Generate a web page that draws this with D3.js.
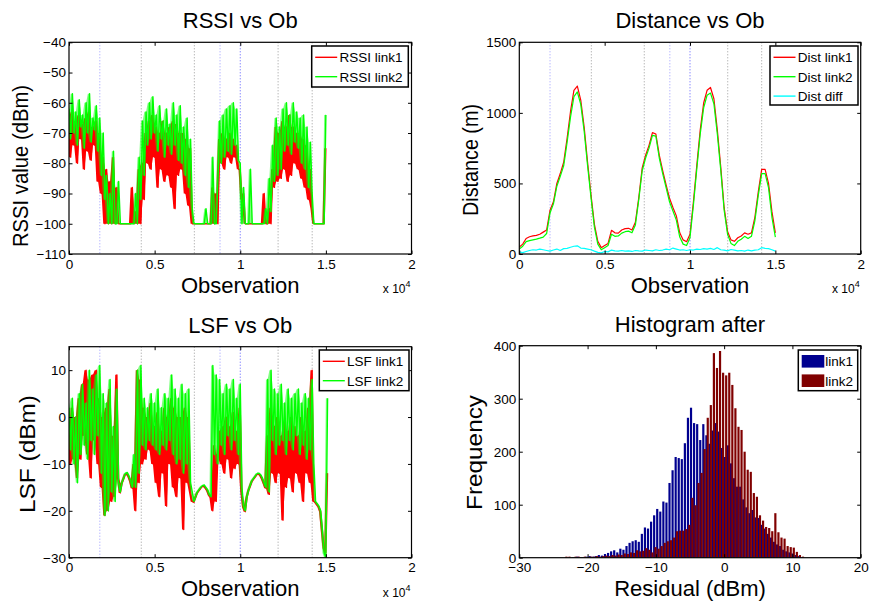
<!DOCTYPE html>
<html>
<head>
<meta charset="utf-8">
<script src="https://cdn.jsdelivr.net/npm/d3@7"></script>
<style>
body { margin: 0; background: #fff; }
svg { display: block; font-family: "Liberation Sans", Arial, sans-serif; }
</style>
</head>
<body>
<svg id="fig" width="869" height="604"></svg>
<script>
/////////////////////////////////////////////////////////////////////////
// data

// RSSI / LSF samples every 100 observations, starting at 0
var obsStep = 100
var rssiLink1 = [-65,-78,-63,-74,-66,-80,-64,-72,-67,-82,-65,-76,-63,-79,-68,-74,-66,-86,
	-70,-90,-78,-100, -82,-100,-86,-100,-78,-100,-88,-100,
	-100,-100,-100,-100,-100,-100,-100,-88,-100, -96,-100,-82,-100, -80,-92,-70, -80,-66,-82,-64,
	-78,-68,-88,-70,-82,-66,-86,-70,-84,-68, -88,-66,-95,-67,-84,-70, -82,-70,-90,-72,-94,-75,
	-100,-100, -100,-100,-100,-100,-100,-100,-100,-100,-100, -100,-88,-100,-90,-100,
	-72,-80,-70,-82,-72,-78,-70,-80,-72,-78,-74,-82, -82,-92,-90,
	-100,-100,-100,-100,-100,-100,-100,-100,-100,-100,-100,-90, -100,-100,-95,-100,-82,
	-88,-68,-86,-70,-85, -66,-82,-68,-86,-64,-84,-68,-80,-70,-82, -70,-85,-72,-88,-74,
	-92,-82,-95, -100,-100,-100,-100,-100,-100, -100,-75]
var rssiLink2 = [-62,-72,-57,-70,-63,-74,-59,-68,-64,-75,-60,-70,-57,-73,-65,-69,-61,-76,
	-65,-84,-70,-92, -84,-100,-90,-100,-76,-100,-100,-86,
	-100,-100,-100,-100,-100,-100,-100,-100,-100, -90,-100,-78,-92, -66,-84,-63, -74,-60,-72,-58,
	-70,-64,-76,-61,-72,-66,-78,-62,-74,-67, -77,-60,-74,-64,-79,-61, -80,-68,-84,-65,-88,-72,
	-95,-100, -100,-100,-100,-100,-100,-100,-95,-100,-100, -100,-78,-100,-100,-85,
	-66,-80,-64,-78,-62,-76,-61,-77,-60,-74,-62,-79, -80,-100,-88,
	-100,-100,-100,-82,-100,-100,-100,-100,-100,-100,-100,-100, -95,-100,-85,-96,-74,
	-86,-65,-84,-68,-82, -62,-76,-60,-74,-64,-77,-60,-73,-63,-75, -65,-80,-64,-82,-68,
	-88,-73,-90, -100,-100,-100,-100,-100,-100, -100,-64]

var lsfLink1 = [-4,-10,2,-9,0,-13,4,-9,7,-4,10,-8,8,-13,9,-5,10,-10,
	4,-15,0,-21, 2,-20,6,-18,-4,-17,9,-13,
	-16.2,-14.2,-13.2,-12.2,-12,-12.7,-13.7,-15.2, -10,-20,10,-14,8,
	-10,2,-9,0,-7,3,-10, -2,-14,1,-17,-3,-12,2,-19,0,-10, 4,-15,2,-17,0,-13,
	0,-24,2,-14,0,-16, -18,
	-18.2,-17.2,-16.2,-15.7,-15.2,-14.8,-14.7,-15.2,-15.7,-16.7, -17.2,-20,-6,-18,-8,
	-3,-10,-2,-12,0,-9,-2,-13,1,-11,-3,-10, 2,-16,-19.2,
	-20.2,-17.2,-15.7,-14.7,-13.7,-13.2,-12.7,-12.2,-12.2,-12.5,-13.2,-14.2, -15.2,-4,-16.5,2,-12,
	-2,-14,0,-12,-4,-22,-1,-15,-3,-13,0,-16,-2,-12,-4,-14,0,-18,-3,-12,2,-14,
	10,-18, -18.2,-18.7,-19.2,-20.2, -24.2,-28,-29,-12]
var lsfLink2 = [2,-7,4,-10,0,-14,5,-8,7,-6,3,-9,10,-5,6,-8,9,-4,
	11,-12,5,-21, 3,-20,8,-16,-2,-18,6,-14,
	-16,-14,-13,-12,-11.8,-12.5,-13.5,-15, -8,-15,10,-12,11,
	-6,4,-7,2,-5,5,-6, 3,-7,6,-8,2,-6,5,-7,4,-5, 9,-8,6,-10,4,-9,
	7,-12,5,-10,6,-14, -16,
	-18,-17,-16,-15.5,-15,-14.6,-14.5,-15,-15.5,-16.5, -17,11,-8,9,-10,
	8,-6,5,-8,7,-4,6,-7,8,-5,4,-8, 7,-15,-19,
	-20,-17,-15.5,-14.5,-13.5,-13,-12.5,-12,-12,-12.3,-13,-14, -15,8,-16,10,-5,
	6,-8,5,-6,7,-5,3,-8,6,-5,4,-7,5,-4,6,-8,3,-6,5,-9,4,-7,
	8,-10, -18,-18.5,-19,-20, -24,-29,-30,4]

// distance samples every 200 observations, starting at 0
var distStep = 200
var distLink1 = [50,70,110,122,128,132,140,155,170,310,370,500,570,650,820,1010,1160,1190,1090,900,
	650,420,210,90,45,60,75,168,150,148,170,180,182,170,225,400,610,700,770,860,
	850,700,590,490,395,330,270,150,100,87,140,370,630,880,1070,1160,1180,1100,880,620,
	330,160,100,90,115,128,150,140,150,260,440,600,600,500,300,150]
var distLink2 = [35,55,88,95,100,105,112,120,145,290,355,480,550,625,790,970,1115,1148,1060,870,
	625,400,190,70,30,45,60,140,125,128,148,158,162,150,205,385,590,680,750,840,
	835,680,570,470,370,305,240,120,70,60,115,345,605,850,1035,1125,1140,1065,850,595,
	310,140,75,60,90,105,125,110,125,235,415,570,570,470,260,120]
var distDiff = [15,10,18,25,30,28,35,30,25,20,28,35,25,38,40,48,55,58,42,40,
	35,30,20,12,8,18,15,28,22,20,25,20,22,18,25,22,20,28,25,22,
	30,25,28,35,30,42,35,28,30,25,30,28,35,32,38,35,40,32,45,30,
	28,22,32,28,22,25,20,28,22,28,30,45,40,38,30,20]

// marker observations drawn as dotted verticals, and their kind
var eventObs = [1800, 4220, 7320, 8820, 10000, 12210, 14200]
var eventKind = ['blue', 'grey', 'grey', 'blue', 'darkblue', 'grey', 'grey']

// histogram of residuals
var binCenters = [-23.2,-22.75,-22.3,-21.85,-21.4,-20.95,-20.5,-20.05,-19.6,-19.15,
	-18.7,-18.25,-17.8,-17.35,-16.9,-16.45,-16,-15.55,-15.1,-14.65,
	-14.2,-13.75,-13.3,-12.85,-12.4,-11.95,-11.5,-11.05,-10.6,-10.15,
	-9.7,-9.25,-8.8,-8.35,-7.9,-7.45,-7,-6.55,-6.1,-5.65,
	-5.2,-4.75,-4.3,-3.85,-3.4,-2.95,-2.5,-2.05,-1.6,-1.15,
	-0.7,-0.25,0.2,0.65,1.1,1.55,2,2.45,2.9,3.35,
	3.8,4.25,4.7,5.15,5.6,6.05,6.5,6.95,7.4,7.85,
	8.3,8.75,9.2,9.65,10.1,10.55,11,11.45]
var histLink1 = [0,0,0,1,2,1,1,2,3,2,
	3,5,4,7,9,12,14,10,17,15,
	22,28,31,33,30,45,57,55,68,80,
	92,87,106,104,141,165,190,188,186,216,
	264,283,254,252,222,252,231,215,240,254,
	238,207,190,212,178,150,134,134,110,95,
	84,90,76,75,62,55,45,38,30,25,
	22,15,12,10,8,5,3,1]
var histLink2 = [2,2,1,2,2,1,2,1,2,2,
	3,2,3,4,3,5,4,6,5,8,
	7,10,9,14,12,13,18,15,10,20,
	17,22,28,31,33,38,50,51,51,54,
	62,113,99,141,160,205,264,288,386,358,
	390,349,344,349,326,282,247,241,200,166,
	162,122,115,80,70,58,56,50,84,48,
	38,36,22,20,19,11,5,2]

var obsTicks = [0, 5000, 10000, 15000, 20000]
var rssiTicks = [-110, -100, -90, -80, -70, -60, -50, -40]
var distTicks = [0, 500, 1000, 1500]
var lsfTicks = [-30, -20, -10, 0, 10]
var resTicks = [-30, -20, -10, 0, 10, 20]
var freqTicks = [0, 100, 200, 300, 400]

/////////////////////////////////////////////////////////////////////////
// helpers

var svg = d3.select('#fig')
var clipN = 0
var RED = '#ff0000', GREEN = '#00ff00', CYAN = '#00ffff'
var eventColor = {blue: '#9a9aff', darkblue: '#5a5aff', grey: '#9a9a9a'}

function makeAxes(p, xDom, yDom) {
	var x = d3.scaleLinear(xDom, [p.l, p.r])
	var y = d3.scaleLinear(yDom, [p.b, p.t])
	var g = svg.append('g')
	var id = 'clip' + (clipN++)
	svg.append('clipPath').attr('id', id).append('rect')
		.attr('x', p.l).attr('y', p.t).attr('width', p.r - p.l).attr('height', p.b - p.t)
	var plot = g.append('g').attr('clip-path', 'url(#' + id + ')')
	return {g: g, plot: plot, x: x, y: y, p: p}
}

function finishAxes(a, xTicks, yTicks, xFmt, yFmt, xPad) {
	var p = a.p, tl = -3.5
	var styleAxis = function(sel) {
		sel.select('.domain').remove()
		sel.attr('font-family', null).attr('font-size', null)
		sel.selectAll('line').attr('stroke', '#000').attr('stroke-width', 1)
		sel.selectAll('text').attr('fill', '#000').style('font-size', '13.5px')
	}
	a.g.append('g').attr('transform', 'translate(0,' + p.b + ')')
		.call(d3.axisBottom(a.x).tickValues(xTicks).tickSize(tl).tickPadding(xPad).tickFormat(xFmt)).call(styleAxis)
	a.g.append('g').attr('transform', 'translate(0,' + p.t + ')')
		.call(d3.axisTop(a.x).tickValues(xTicks).tickSize(tl).tickFormat('')).call(styleAxis)
	a.g.append('g').attr('transform', 'translate(' + p.l + ',0)')
		.call(d3.axisLeft(a.y).tickValues(yTicks).tickSize(tl).tickPadding(3).tickFormat(yFmt)).call(styleAxis)
	a.g.append('g').attr('transform', 'translate(' + p.r + ',0)')
		.call(d3.axisRight(a.y).tickValues(yTicks).tickSize(tl).tickFormat('')).call(styleAxis)
	a.g.append('rect').attr('x', p.l).attr('y', p.t).attr('width', p.r - p.l).attr('height', p.b - p.t)
		.attr('fill', 'none').attr('stroke', '#000').attr('stroke-width', 1.2)
}

function texts(a, title, xlab, ylab, yl) {
	var p = a.p, cx = (p.l + p.r) / 2
	svg.append('text').attr('x', cx).attr('y', p.t - 14).attr('text-anchor', 'middle')
		.style('font-size', '22px').text(title)
	svg.append('text').attr('x', cx).attr('y', p.b + 38.5).attr('text-anchor', 'middle')
		.style('font-size', '22px').text(xlab)
	svg.append('text').attr('transform', 'translate(' + yl.x + ',' + yl.y + ') rotate(-90)')
		.attr('text-anchor', 'middle').attr('textLength', yl.len).attr('lengthAdjust', 'spacingAndGlyphs')
		.style('font-size', '22px').text(ylab)
}

function expLabel(a) {
	var t = svg.append('text').attr('x', a.p.r - 1).attr('y', a.p.b + 39).attr('text-anchor', 'end')
		.style('font-size', '12px')
	t.append('tspan').text('x 10')
	t.append('tspan').attr('dy', -6).style('font-size', '9px').text('4')
}

function events(a) {
	a.plot.selectAll('.ev').data(eventObs).enter().append('line')
		.attr('x1', function(d) { return a.x(d) }).attr('x2', function(d) { return a.x(d) })
		.attr('y1', a.p.t).attr('y2', a.p.b)
		.attr('stroke', function(d, i) { return eventColor[eventKind[i]] })
		.attr('stroke-width', 1).attr('stroke-dasharray', '1,2')
}

function series(a, values, step, color, w) {
	var line = d3.line().x(function(d, i) { return a.x(i * step) }).y(function(d) { return a.y(d) })
	a.plot.append('path').datum(values).attr('d', line)
		.attr('fill', 'none').attr('stroke', color).attr('stroke-width', w).attr('stroke-linejoin', 'round')
}

// dense noisy trace: the span swept between neighbouring samples is shaded, then the trace itself
function noisySeries(a, values, step, color, w, shade) {
	var next = function(i) { return values[Math.min(i + 1, values.length - 1)] }
	var band = d3.area()
		.x(function(d, i) { return a.x(i * step) })
		.y0(function(d, i) { return a.y(Math.min(d, next(i))) })
		.y1(function(d, i) { return a.y(Math.max(d, next(i))) })
	a.plot.append('path').datum(values).attr('d', band).attr('fill', color).attr('fill-opacity', shade)
	series(a, values, step, color, w)
}

function legend(box, items, patch) {
	var g = svg.append('g')
	g.append('rect').attr('x', box.x).attr('y', box.y).attr('width', box.w).attr('height', box.h)
		.attr('fill', '#fff').attr('stroke', '#000').attr('stroke-width', 1.5)
	items.forEach(function(it, i) {
		var cy = box.y + 11.3 + i * 19.4
		if (patch) {
			g.append('rect').attr('x', box.x + 3.4).attr('y', cy - 6.3).attr('width', 22.6).attr('height', 12.6)
				.attr('fill', it.color)
		} else {
			g.append('line').attr('x1', box.x + 3.5).attr('x2', box.x + 25.5).attr('y1', cy).attr('y2', cy)
				.attr('stroke', it.color).attr('stroke-width', 1.4)
		}
		g.append('text').attr('x', box.x + (patch ? 27 : 27.8)).attr('y', cy + 4.8)
			.style('font-size', '13.5px').text(it.label)
	})
}

var obsFmt = function(d) { return String(d / 1e4) }
var intFmt = d3.format('d')

/////////////////////////////////////////////////////////////////////////
// RSSI vs Ob

var a1 = makeAxes({l: 69, r: 411.5, t: 42.3, b: 254}, [0, 20000], [-110, -40])
events(a1)
noisySeries(a1, rssiLink1, obsStep, RED, 1.3, 1)
noisySeries(a1, rssiLink2, obsStep, GREEN, 1.4, 0.5)
finishAxes(a1, obsTicks, rssiTicks, obsFmt, intFmt, 5.5)
texts(a1, 'RSSI vs Ob', 'Observation', 'RSSI value (dBm)', {x: 28, y: 166, len: 162})
expLabel(a1)
legend({x: 311.7, y: 46, w: 96.6, h: 41}, [{label: 'RSSI link1', color: RED}, {label: 'RSSI link2', color: GREEN}])

/////////////////////////////////////////////////////////////////////////
// Distance vs Ob

var a2 = makeAxes({l: 519.3, r: 860.7, t: 42.3, b: 254}, [0, 20000], [0, 1500])
events(a2)
series(a2, distLink1, distStep, RED, 1.2)
series(a2, distLink2, distStep, GREEN, 1.2)
series(a2, distDiff, distStep, CYAN, 1.2)
finishAxes(a2, obsTicks, distTicks, obsFmt, intFmt, 5.5)
texts(a2, 'Distance vs Ob', 'Observation', 'Distance (m)', {x: 478, y: 160, len: 112})
expLabel(a2)
legend({x: 770, y: 46, w: 88, h: 59},
	[{label: 'Dist link1', color: RED}, {label: 'Dist link2', color: GREEN}, {label: 'Dist diff', color: CYAN}])

/////////////////////////////////////////////////////////////////////////
// LSF vs Ob

var a3 = makeAxes({l: 69, r: 411.5, t: 346.7, b: 557.7}, [0, 20000], [-30, 15])
events(a3)
noisySeries(a3, lsfLink1, obsStep, RED, 1.3, 1)
noisySeries(a3, lsfLink2, obsStep, GREEN, 1.4, 0.5)
finishAxes(a3, obsTicks, lsfTicks, obsFmt, intFmt, 5)
texts(a3, 'LSF vs Ob', 'Observation', 'LSF (dBm)', {x: 35, y: 454, len: 118})
expLabel(a3)
legend({x: 319.3, y: 350, w: 89.7, h: 40.7}, [{label: 'LSF link1', color: RED}, {label: 'LSF link2', color: GREEN}])

/////////////////////////////////////////////////////////////////////////
// Histogram after

var a4 = makeAxes({l: 519.3, r: 860.7, t: 345.7, b: 557.7}, [-30, 20], [0, 400])
var bw = a4.x(0.32) - a4.x(0)
var hists = [{v: histLink1, c: '#00008f', dx: -0.1}, {v: histLink2, c: '#800000', dx: 0.1}]
hists.forEach(function(h) {
	a4.plot.append('g').selectAll('rect').data(h.v).enter().append('rect')
		.attr('x', function(d, i) { return a4.x(binCenters[i] + h.dx) - bw / 2 })
		.attr('y', function(d) { return a4.y(d) })
		.attr('width', bw)
		.attr('height', function(d) { return a4.y(0) - a4.y(d) })
		.attr('fill', h.c)
})
finishAxes(a4, resTicks, freqTicks, intFmt, intFmt, 5)
texts(a4, 'Histogram after', 'Residual (dBm)', 'Frequency', {x: 482, y: 452.5, len: 115})
legend({x: 798.3, y: 350, w: 59.4, h: 40.7}, [{label: 'link1', color: '#00008f'}, {label: 'link2', color: '#800000'}], true)
</script>
</body>
</html>
